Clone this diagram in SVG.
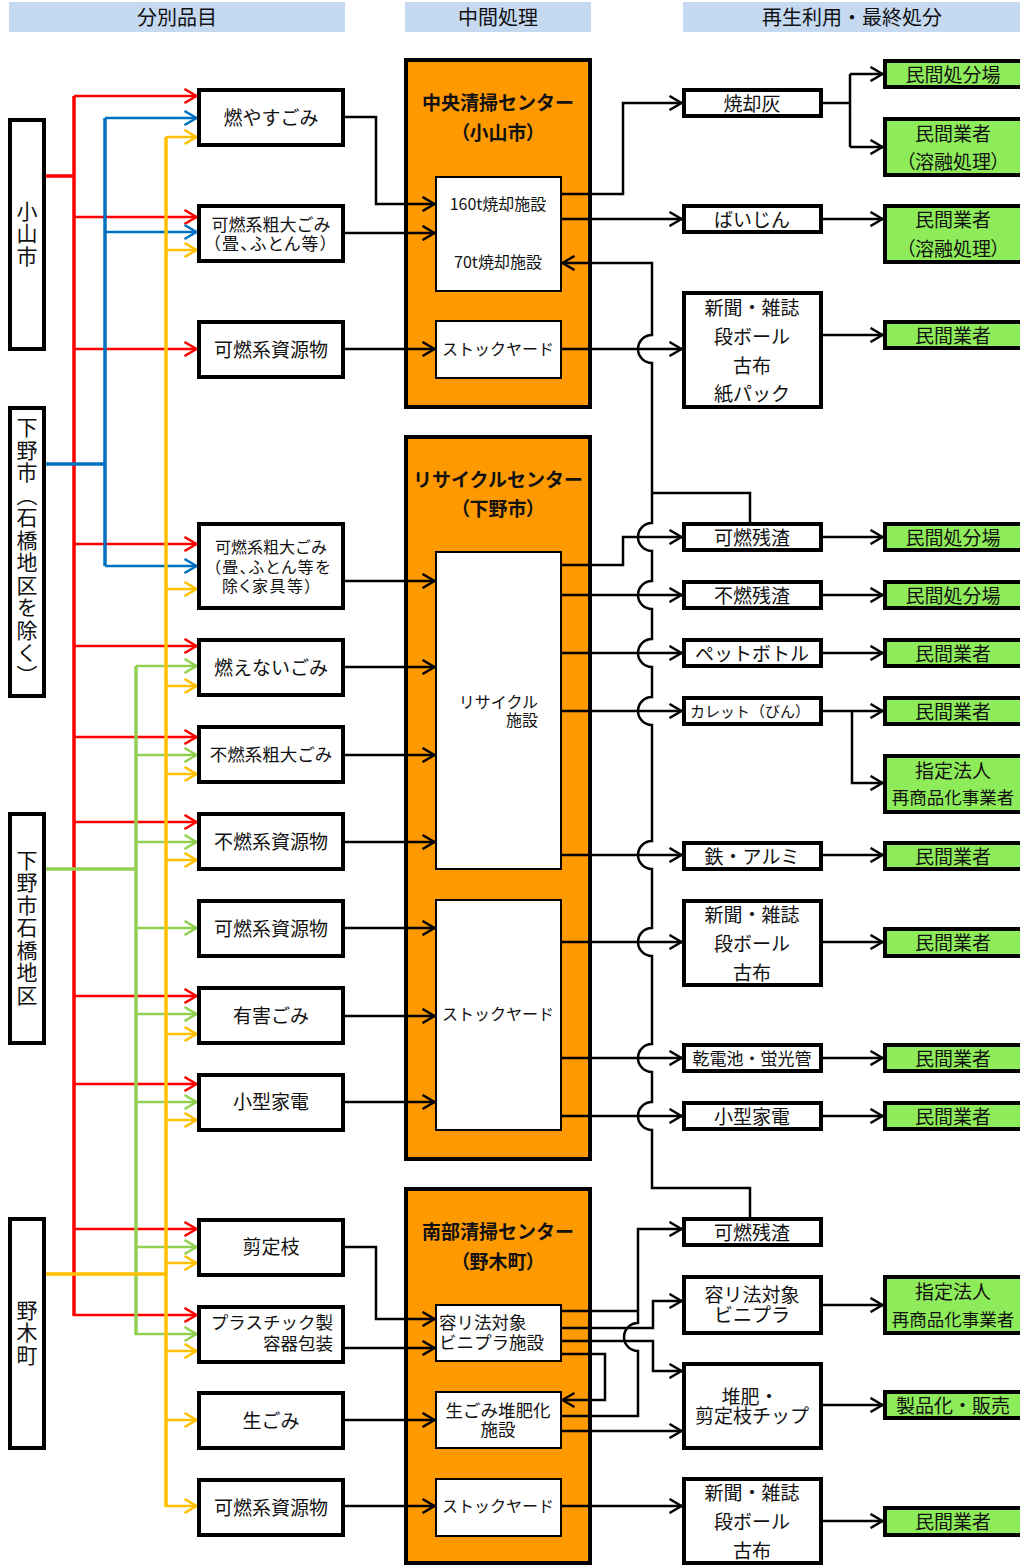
<svg xmlns="http://www.w3.org/2000/svg" width="1020" height="1566" viewBox="0 0 1020 1566">
<style>
text{font-family:"Noto Sans CJK JP","Noto Sans",sans-serif;fill:#111;dominant-baseline:central;transform:translateY(-1px)}
.c{text-anchor:middle}
.r{text-anchor:end}
.l{text-anchor:start}
.f15{font-size:15px}.f16{font-size:16px}.f17{font-size:17px}.f175{font-size:17.5px}.f19{font-size:19px}.f20{font-size:20px}
.b{font-weight:bold}
.p{font-feature-settings:"palt"}
.ls{letter-spacing:1.5px}
.v{writing-mode:vertical-rl;font-size:21px;letter-spacing:1.5px;text-anchor:middle;transform:none}
.hdr{fill:#C5D9F1}
.box{fill:#fff;stroke:#000;stroke-width:4}
.inner{fill:#fff;stroke:#000;stroke-width:2}
.org{fill:#FF9900;stroke:#000;stroke-width:4}
.grn{fill:#8EEC5A;stroke:#000;stroke-width:4}
.k{fill:none;stroke:#000;stroke-width:2.5}
.ka{marker-end:url(#ak)}
.red{fill:none;stroke:#FF0000}
.blu{fill:none;stroke:#0070C0}
.gre{fill:none;stroke:#92D050}
.yel{fill:none;stroke:#FFC000}
.vl{stroke-width:3.5}
.hl{stroke-width:2.5}
.ra{marker-end:url(#ar)}.ba{marker-end:url(#ab)}.ga{marker-end:url(#ag)}.ya{marker-end:url(#ay)}
</style>
<defs>
<marker id="ak" viewBox="0 0 15 16" refX="14" refY="8" markerWidth="15" markerHeight="16" markerUnits="userSpaceOnUse" orient="auto"><path d="M1.5,1 L13.5,8 L1.5,15" fill="none" stroke="#000" stroke-width="2.5"/></marker>
<marker id="ar" viewBox="0 0 15 16" refX="14" refY="8" markerWidth="15" markerHeight="16" markerUnits="userSpaceOnUse" orient="auto"><path d="M1.5,1 L13.5,8 L1.5,15" fill="none" stroke="#FF0000" stroke-width="2.5"/></marker>
<marker id="ab" viewBox="0 0 15 16" refX="14" refY="8" markerWidth="15" markerHeight="16" markerUnits="userSpaceOnUse" orient="auto"><path d="M1.5,1 L13.5,8 L1.5,15" fill="none" stroke="#0070C0" stroke-width="2.5"/></marker>
<marker id="ag" viewBox="0 0 15 16" refX="14" refY="8" markerWidth="15" markerHeight="16" markerUnits="userSpaceOnUse" orient="auto"><path d="M1.5,1 L13.5,8 L1.5,15" fill="none" stroke="#92D050" stroke-width="2.5"/></marker>
<marker id="ay" viewBox="0 0 15 16" refX="14" refY="8" markerWidth="15" markerHeight="16" markerUnits="userSpaceOnUse" orient="auto"><path d="M1.5,1 L13.5,8 L1.5,15" fill="none" stroke="#FFC000" stroke-width="2.5"/></marker>
</defs>
<rect width="1020" height="1566" fill="#fff"/>

<g id="headers">
<rect class="hdr" x="9" y="2" width="336" height="30"/><text class="c f20" x="177" y="17">分別品目</text>
<rect class="hdr" x="405" y="2" width="186" height="30"/><text class="c f20" x="498" y="17">中間処理</text>
<rect class="hdr" x="683" y="2" width="337" height="30"/><text class="c f20" x="852" y="17">再生利用・最終処分</text>
</g>

<g id="center-oyama"><rect class="org" x="406" y="60" width="184" height="347"/>
<text class="c f19 b" x="498" y="102">中央清掃センター</text><text class="c f19 b p" x="498" y="132">（小山市）</text></g>
<g id="center-recycle"><rect class="org" x="406" y="437" width="184" height="722"/>
<text class="c f19 b" x="498" y="479">リサイクルセンター</text><text class="c f19 b p" x="498" y="508">（下野市）</text></g>
<g id="center-south"><rect class="org" x="406" y="1189" width="184" height="374"/>
<text class="c f19 b" x="498" y="1231">南部清掃センター</text><text class="c f19 b p" x="498" y="1261">（野木町）</text></g>

<g id="connectors">
<path class="red vl" d="M46,176 H74 M74,96 V1315"/>
<path class="red hl ra" d="M74,96 H197"/><path class="red hl ra" d="M74,217 H197"/><path class="red hl ra" d="M74,349 H197"/><path class="red hl ra" d="M74,544 H197"/><path class="red hl ra" d="M74,646 H197"/><path class="red hl ra" d="M74,737 H197"/><path class="red hl ra" d="M74,822 H197"/><path class="red hl ra" d="M74,996 H197"/><path class="red hl ra" d="M74,1084 H197"/><path class="red hl ra" d="M74,1229 H197"/><path class="red hl ra" d="M72.5,1315 H197"/>
<path class="blu vl" d="M46,464 H105 M105,118 V566"/>
<path class="blu hl ba" d="M105,118 H197"/><path class="blu hl ba" d="M105,232 H197"/><path class="blu hl ba" d="M105,566 H197"/>
<path class="gre vl" d="M46,869 H136 M136,666 V1334"/>
<path class="gre hl ga" d="M136,666 H197"/><path class="gre hl ga" d="M136,755 H197"/><path class="gre hl ga" d="M136,842 H197"/><path class="gre hl ga" d="M136,928 H197"/><path class="gre hl ga" d="M136,1014 H197"/><path class="gre hl ga" d="M136,1102 H197"/><path class="gre hl ga" d="M136,1247 H197"/><path class="gre hl ga" d="M134.5,1334 H197"/>
<path class="yel vl" d="M46,1274 H166 M166,137 V1506"/>
<path class="yel hl ya" d="M166,137 H197"/><path class="yel hl ya" d="M166,250 H197"/><path class="yel hl ya" d="M166,589 H197"/><path class="yel hl ya" d="M166,686 H197"/><path class="yel hl ya" d="M166,774 H197"/><path class="yel hl ya" d="M166,860 H197"/><path class="yel hl ya" d="M166,1034 H197"/><path class="yel hl ya" d="M166,1120 H197"/><path class="yel hl ya" d="M166,1263 H197"/><path class="yel hl ya" d="M166,1351 H197"/><path class="yel hl ya" d="M166,1420 H197"/><path class="yel hl ya" d="M164.5,1506 H197"/>
<path class="k ka" d="M345,117 H376 V204 H435"/>
<path class="k ka" d="M345,233 H435"/>
<path class="k ka" d="M345,349 H435"/>
<path class="k ka" d="M345,581 H435"/>
<path class="k ka" d="M345,667 H435"/>
<path class="k ka" d="M345,755 H435"/>
<path class="k ka" d="M345,842 H435"/>
<path class="k ka" d="M345,928 H435"/>
<path class="k ka" d="M345,1016 H435"/>
<path class="k ka" d="M345,1102 H435"/>
<path class="k ka" d="M345,1247 H376 V1319 H435"/>
<path class="k ka" d="M345,1348 H435"/>
<path class="k ka" d="M345,1420 H435"/>
<path class="k ka" d="M345,1506 H435"/>
<path class="k ka" d="M562,194 H623 V103 H682"/>
<path class="k ka" d="M562,219 H682"/>
<path class="k ka" d="M562,349 H682"/>
<path class="k ka" d="M750,1217 V1188 H652 V1130 A14,14 0 0 1 652,1102 V1072 A14,14 0 0 1 652,1044 V956 A14,14 0 0 1 652,928 V869 A14,14 0 0 1 652,841 V725 A14,14 0 0 1 652,697 V667 A14,14 0 0 1 652,639 V609 A14,14 0 0 1 652,581 V551 A14,14 0 0 1 652,523 V363 A14,14 0 0 1 652,335 V263 H562"/>
<path class="k" d="M750,522 V493 H652"/>
<path class="k ka" d="M562,565 H623 V537 H682"/>
<path class="k ka" d="M562,595 H682"/>
<path class="k ka" d="M562,653 H682"/>
<path class="k ka" d="M562,711 H682"/>
<path class="k ka" d="M562,855 H682"/>
<path class="k ka" d="M562,942 H682"/>
<path class="k ka" d="M562,1058 H682"/>
<path class="k ka" d="M562,1116 H682"/>
<path class="k ka" d="M562,1416 H638 V1351 A14,14 0 0 1 638,1323 V1229 H682"/>
<path class="k" d="M562,1311 H638"/>
<path class="k ka" d="M562,1328 H653 V1301 H682"/>
<path class="k ka" d="M562,1341 H653 V1371 H682"/>
<path class="k ka" d="M562,1354 H605 V1400 H562"/>
<path class="k ka" d="M562,1431 H682"/>
<path class="k ka" d="M562,1506 H682"/>
<path class="k" d="M823,103 H850 M850,74 V147"/>
<path class="k ka" d="M850,74 H883"/>
<path class="k ka" d="M850,147 H883"/>
<path class="k ka" d="M823,219 H883"/>
<path class="k ka" d="M823,335 H883"/>
<path class="k ka" d="M823,537 H883"/>
<path class="k ka" d="M823,595 H883"/>
<path class="k ka" d="M823,653 H883"/>
<path class="k ka" d="M823,711 H883"/>
<path class="k ka" d="M852,711 V783 H883"/>
<path class="k ka" d="M823,855 H883"/>
<path class="k ka" d="M823,942 H883"/>
<path class="k ka" d="M823,1058 H883"/>
<path class="k ka" d="M823,1116 H883"/>
<path class="k ka" d="M823,1305 H883"/>
<path class="k ka" d="M823,1405 H883"/>
<path class="k ka" d="M823,1521 H883"/>
</g>

<g id="m-oyama"><rect class="box" x="10" y="120" width="34" height="229"/><text class="v" x="27" y="234">小山市</text></g>
<g id="m-shimotsuke"><rect class="box" x="10" y="408" width="34" height="288"/><text class="v" x="27" y="552">下野市（石橋地区を除く）</text></g>
<g id="m-ishibashi"><rect class="box" x="10" y="814" width="34" height="229"/><text class="v" x="27" y="928">下野市石橋地区</text></g>
<g id="m-nogi"><rect class="box" x="10" y="1219" width="34" height="229"/><text class="v" x="27" y="1333">野木町</text></g>

<g id="i1"><rect class="box" x="199" y="90" width="144" height="55"/><text class="c f19" x="271" y="117">燃やすごみ</text></g>
<g id="i2"><rect class="box" x="199" y="206" width="144" height="55"/><text class="c f17" x="271" y="224">可燃系粗大ごみ</text><text class="c f17 p ls" x="271" y="243">（畳、ふとん等）</text></g>
<g id="i3"><rect class="box" x="199" y="322" width="144" height="55"/><text class="c f19" x="271" y="349">可燃系資源物</text></g>
<g id="i4"><rect class="box" x="199" y="524" width="144" height="84"/><text class="c f16" x="271" y="547">可燃系粗大ごみ</text><text class="c f16 p ls" x="272" y="567">（畳、ふとん等を</text><text class="c f16 p ls" x="268" y="586">除く家具等）</text></g>
<g id="i5"><rect class="box" x="199" y="640" width="144" height="55"/><text class="c f19" x="271" y="667">燃えないごみ</text></g>
<g id="i6"><rect class="box" x="199" y="727" width="144" height="55"/><text class="c f175" x="271" y="754">不燃系粗大ごみ</text></g>
<g id="i7"><rect class="box" x="199" y="814" width="144" height="55"/><text class="c f19" x="271" y="841">不燃系資源物</text></g>
<g id="i8"><rect class="box" x="199" y="901" width="144" height="55"/><text class="c f19" x="271" y="928">可燃系資源物</text></g>
<g id="i9"><rect class="box" x="199" y="988" width="144" height="55"/><text class="c f19" x="271" y="1015">有害ごみ</text></g>
<g id="i10"><rect class="box" x="199" y="1075" width="144" height="55"/><text class="c f19" x="271" y="1101">小型家電</text></g>
<g id="i11"><rect class="box" x="199" y="1220" width="144" height="55"/><text class="c f19" x="271" y="1246">剪定枝</text></g>
<g id="i12"><rect class="box" x="199" y="1307" width="144" height="55"/><text class="r f175" x="333" y="1322">プラスチック製</text><text class="r f175" x="333" y="1343">容器包装</text></g>
<g id="i13"><rect class="box" x="199" y="1393" width="144" height="55"/><text class="c f19" x="271" y="1420">生ごみ</text></g>
<g id="i14"><rect class="box" x="199" y="1480" width="144" height="55"/><text class="c f19" x="271" y="1507">可燃系資源物</text></g>

<g id="f-incin"><rect class="inner" x="436" y="177" width="125" height="114"/><text class="c f16" x="498" y="204">160t焼却施設</text><text class="c f16" x="498" y="262">70t焼却施設</text></g>
<g id="f-stock1"><rect class="inner" x="436" y="321" width="125" height="57"/><text class="c f16" x="498" y="349">ストックヤード</text></g>
<g id="f-recycle"><rect class="inner" x="436" y="552" width="125" height="317"/><text class="r f16" x="538" y="702">リサイクル</text><text class="r f16" x="538" y="720">施設</text></g>
<g id="f-stock2"><rect class="inner" x="436" y="900" width="125" height="230"/><text class="c f16" x="498" y="1014">ストックヤード</text></g>
<g id="f-plastic"><rect class="inner" x="436" y="1305" width="125" height="56"/><text class="l f175" x="439" y="1322">容リ法対象</text><text class="l f175" x="439" y="1342">ビニプラ施設</text></g>
<g id="f-compost"><rect class="inner" x="436" y="1392" width="125" height="56"/><text class="c f175" x="498" y="1410">生ごみ堆肥化</text><text class="c f175" x="498" y="1429">施設</text></g>
<g id="f-stock3"><rect class="inner" x="436" y="1479" width="125" height="57"/><text class="c f16" x="498" y="1506">ストックヤード</text></g>

<g id="o1"><rect class="box" x="684" y="90" width="137" height="26"/><text class="c f19" x="752" y="103">焼却灰</text></g>
<g id="o2"><rect class="box" x="684" y="206" width="137" height="26"/><text class="c f19" x="752" y="219">ばいじん</text></g>
<g id="o3"><rect class="box" x="684" y="293" width="137" height="114"/><text class="c f19" x="752" y="307">新聞・雑誌</text><text class="c f19" x="752" y="336">段ボール</text><text class="c f19" x="752" y="365">古布</text><text class="c f19" x="752" y="393">紙パック</text></g>
<g id="o4"><rect class="box" x="684" y="524" width="137" height="26"/><text class="c f19" x="752" y="537">可燃残渣</text></g>
<g id="o5"><rect class="box" x="684" y="582" width="137" height="26"/><text class="c f19" x="752" y="595">不燃残渣</text></g>
<g id="o6"><rect class="box" x="684" y="640" width="137" height="26"/><text class="c f19" x="752" y="653">ペットボトル</text></g>
<g id="o7"><rect class="box" x="684" y="698" width="137" height="26"/><text class="c f15" x="750" y="711">カレット（びん）</text></g>
<g id="o8"><rect class="box" x="684" y="843" width="137" height="26"/><text class="c f19" x="752" y="856">鉄・アルミ</text></g>
<g id="o9"><rect class="box" x="684" y="901" width="137" height="84"/><text class="c f19" x="752" y="914">新聞・雑誌</text><text class="c f19" x="752" y="943">段ボール</text><text class="c f19" x="752" y="972">古布</text></g>
<g id="o10"><rect class="box" x="684" y="1045" width="137" height="26"/><text class="c f17" x="752" y="1058">乾電池・蛍光管</text></g>
<g id="o11"><rect class="box" x="684" y="1103" width="137" height="26"/><text class="c f19" x="752" y="1116">小型家電</text></g>
<g id="o12"><rect class="box" x="684" y="1219" width="137" height="26"/><text class="c f19" x="752" y="1232">可燃残渣</text></g>
<g id="o13"><rect class="box" x="684" y="1277" width="137" height="56"/><text class="c f19" x="752" y="1294">容リ法対象</text><text class="c f19" x="752" y="1314">ビニプラ</text></g>
<g id="o14"><rect class="box" x="684" y="1364" width="137" height="84"/><text class="c f19" x="750" y="1396">堆肥・</text><text class="c f19" x="752" y="1415">剪定枝チップ</text></g>
<g id="o15"><rect class="box" x="684" y="1479" width="137" height="84"/><text class="c f19" x="752" y="1492">新聞・雑誌</text><text class="c f19" x="752" y="1521">段ボール</text><text class="c f19" x="752" y="1550">古布</text></g>

<g id="d1"><rect class="grn" x="885" y="61" width="140" height="26"/><text class="c f19" x="953" y="74">民間処分場</text></g>
<g id="d2"><rect class="grn" x="885" y="119" width="140" height="56"/><text class="c f19" x="953" y="133">民間業者</text><text class="c f19 p" x="953" y="161">（溶融処理）</text></g>
<g id="d3"><rect class="grn" x="885" y="206" width="140" height="56"/><text class="c f19" x="953" y="219">民間業者</text><text class="c f19 p" x="953" y="248">（溶融処理）</text></g>
<g id="d4"><rect class="grn" x="885" y="322" width="140" height="26"/><text class="c f19" x="953" y="335">民間業者</text></g>
<g id="d5"><rect class="grn" x="885" y="524" width="140" height="26"/><text class="c f19" x="953" y="537">民間処分場</text></g>
<g id="d6"><rect class="grn" x="885" y="582" width="140" height="26"/><text class="c f19" x="953" y="595">民間処分場</text></g>
<g id="d7"><rect class="grn" x="885" y="640" width="140" height="26"/><text class="c f19" x="953" y="653">民間業者</text></g>
<g id="d8"><rect class="grn" x="885" y="698" width="140" height="26"/><text class="c f19" x="953" y="711">民間業者</text></g>
<g id="d9"><rect class="grn" x="885" y="756" width="140" height="56"/><text class="c f19" x="953" y="770">指定法人</text><text class="c f175" x="953" y="797">再商品化事業者</text></g>
<g id="d10"><rect class="grn" x="885" y="843" width="140" height="26"/><text class="c f19" x="953" y="856">民間業者</text></g>
<g id="d11"><rect class="grn" x="885" y="929" width="140" height="27"/><text class="c f19" x="953" y="942">民間業者</text></g>
<g id="d12"><rect class="grn" x="885" y="1045" width="140" height="26"/><text class="c f19" x="953" y="1058">民間業者</text></g>
<g id="d13"><rect class="grn" x="885" y="1103" width="140" height="26"/><text class="c f19" x="953" y="1116">民間業者</text></g>
<g id="d14"><rect class="grn" x="885" y="1277" width="140" height="56"/><text class="c f19" x="953" y="1291">指定法人</text><text class="c f175" x="953" y="1319">再商品化事業者</text></g>
<g id="d15"><rect class="grn" x="885" y="1392" width="140" height="26"/><text class="c f19" x="953" y="1405">製品化・販売</text></g>
<g id="d16"><rect class="grn" x="885" y="1508" width="140" height="27"/><text class="c f19" x="953" y="1521">民間業者</text></g>
</svg>
